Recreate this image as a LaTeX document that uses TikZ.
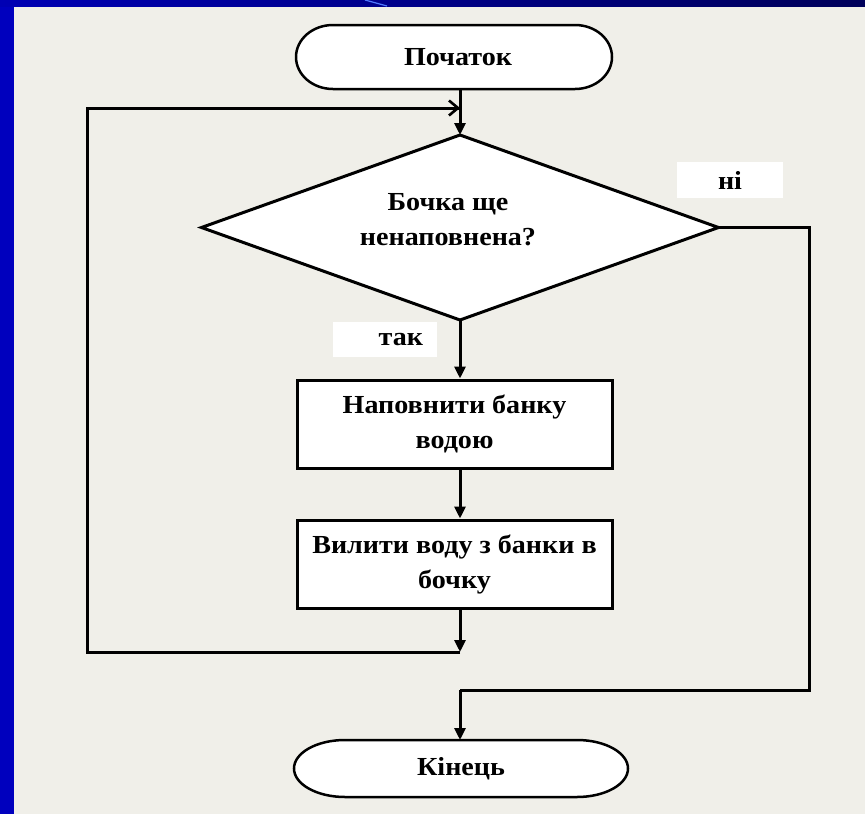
\documentclass[tikz,border=0pt]{standalone}
\usepackage{fontspec}
\setmainfont{Liberation Serif}[FakeStretch=1.08]
\usetikzlibrary{arrows.meta,calc}

\definecolor{slidebg}{HTML}{F0EFE9}
\definecolor{sideblue}{HTML}{0000BE}
\definecolor{topblueA}{HTML}{0000B4}
\definecolor{topblueB}{HTML}{00005A}
\definecolor{accentblue}{HTML}{5078FF}

\tikzset{
  flowtext/.style={font=\bfseries\fontsize{26}{35}\selectfont, align=center, text=black},
  boxnode/.style={flowtext, draw=black, fill=white, line width=3pt, inner sep=0pt},
  hiddenshape/.style={inner sep=0pt, outer sep=0pt},
  labelbox/.style={flowtext, fill=white, inner sep=0pt},
  flowline/.style={draw=black, line width=3pt, line join=miter},
  flowarrow/.style={flowline, -{Triangle[length=12pt,width=11pt]}},
  openarrow/.style={flowline, -{Straight Barb[length=9pt,width=15pt,line width=2.6pt]}},
  termline/.style={draw=black, line width=2.5pt, fill=white}
}

\begin{document}
\begin{tikzpicture}[x=1pt,y=-1pt]
\useasboundingbox (0,0) rectangle (865,814);

% slide background and frame
\fill[slidebg] (0,0) rectangle (865,814);
\fill[sideblue] (0,0) rectangle (14,814);
\shade[left color=topblueA, right color=topblueB] (0,0) rectangle (865,6);
\draw[accentblue, line width=1.2pt] (365,0) -- (387,6);

% start terminator
\node[hiddenshape, minimum width=316pt, minimum height=64pt] (start) at (454,57) {};
\draw[termline]
  ($(start.north west)+(37,0)$) -- ($(start.north east)+(-37,0)$)
  arc[start angle=90, end angle=-90, x radius=37pt, y radius=32pt]
  -- ($(start.south west)+(37,0)$)
  arc[start angle=270, end angle=90, x radius=37pt, y radius=32pt] -- cycle;
\node[flowtext] (starttext) at (458,57) {Початок};

% decision
\node[hiddenshape, minimum width=517pt, minimum height=185pt] (cond) at (460,227.5) {};
\draw[flowline, fill=white] (cond.north) -- (cond.east) -- (cond.south) -- (cond.west) -- cycle;
\node[flowtext] (condtext) at (448,220) {Бочка ще\\ненаповнена?};

% actions
\node[boxnode, minimum width=315pt, minimum height=88pt] (fill) at (454.5,424) {Наповнити банку\\водою};
\node[boxnode, minimum width=315pt, minimum height=88pt] (pour) at (454.5,564) {Вилити воду з банки в\\бочку};

% end terminator
\node[hiddenshape, minimum width=334pt, minimum height=57pt] (stop) at (461,768.5) {};
\draw[termline]
  ($(stop.north west)+(51,0)$) -- ($(stop.north east)+(-51,0)$)
  arc[start angle=90, end angle=-90, x radius=51pt, y radius=28.5pt]
  -- ($(stop.south west)+(51,0)$)
  arc[start angle=270, end angle=90, x radius=51pt, y radius=28.5pt] -- cycle;
\node[flowtext] (stoptext) at (stop.center) {Кінець};

% branch labels
\node[labelbox, minimum width=106pt, minimum height=36pt] (nolabel) at (730,180) {ні};
\node[labelbox, minimum height=35pt, text width=76pt, inner xsep=14pt, align=right] (yeslabel) at (385,339.5) {так};

% loop corners
\coordinate (loopin) at (460,108);
\coordinate (loopbot) at (460,652);
\coordinate (loopbl) at (87,652);
\coordinate (looptl) at (87,108);
\coordinate (exitr) at (809,227.5);
\coordinate (exitbr) at (809,690);
\coordinate (exitbl) at (460,690);

% connectors
\draw[flowarrow] (loopin |- start.south) -- (cond.north);
\draw[flowarrow] (cond.south) -- (loopin |- fill.north);
\draw[flowarrow] (loopin |- fill.south) -- (loopin |- pour.north);
\draw[flowarrow] (loopin |- pour.south) -- (loopbot);
\draw[flowline] (loopbot) -- (loopbl) -- (looptl) -- (loopin);
\draw[openarrow] (looptl) -- (loopin);
\draw[flowline] (cond.east) -- (exitr) -- (exitbr) -- (exitbl);
\draw[flowarrow] (exitbl) -- (exitbl |- stop.north);
\end{tikzpicture}
\end{document}
